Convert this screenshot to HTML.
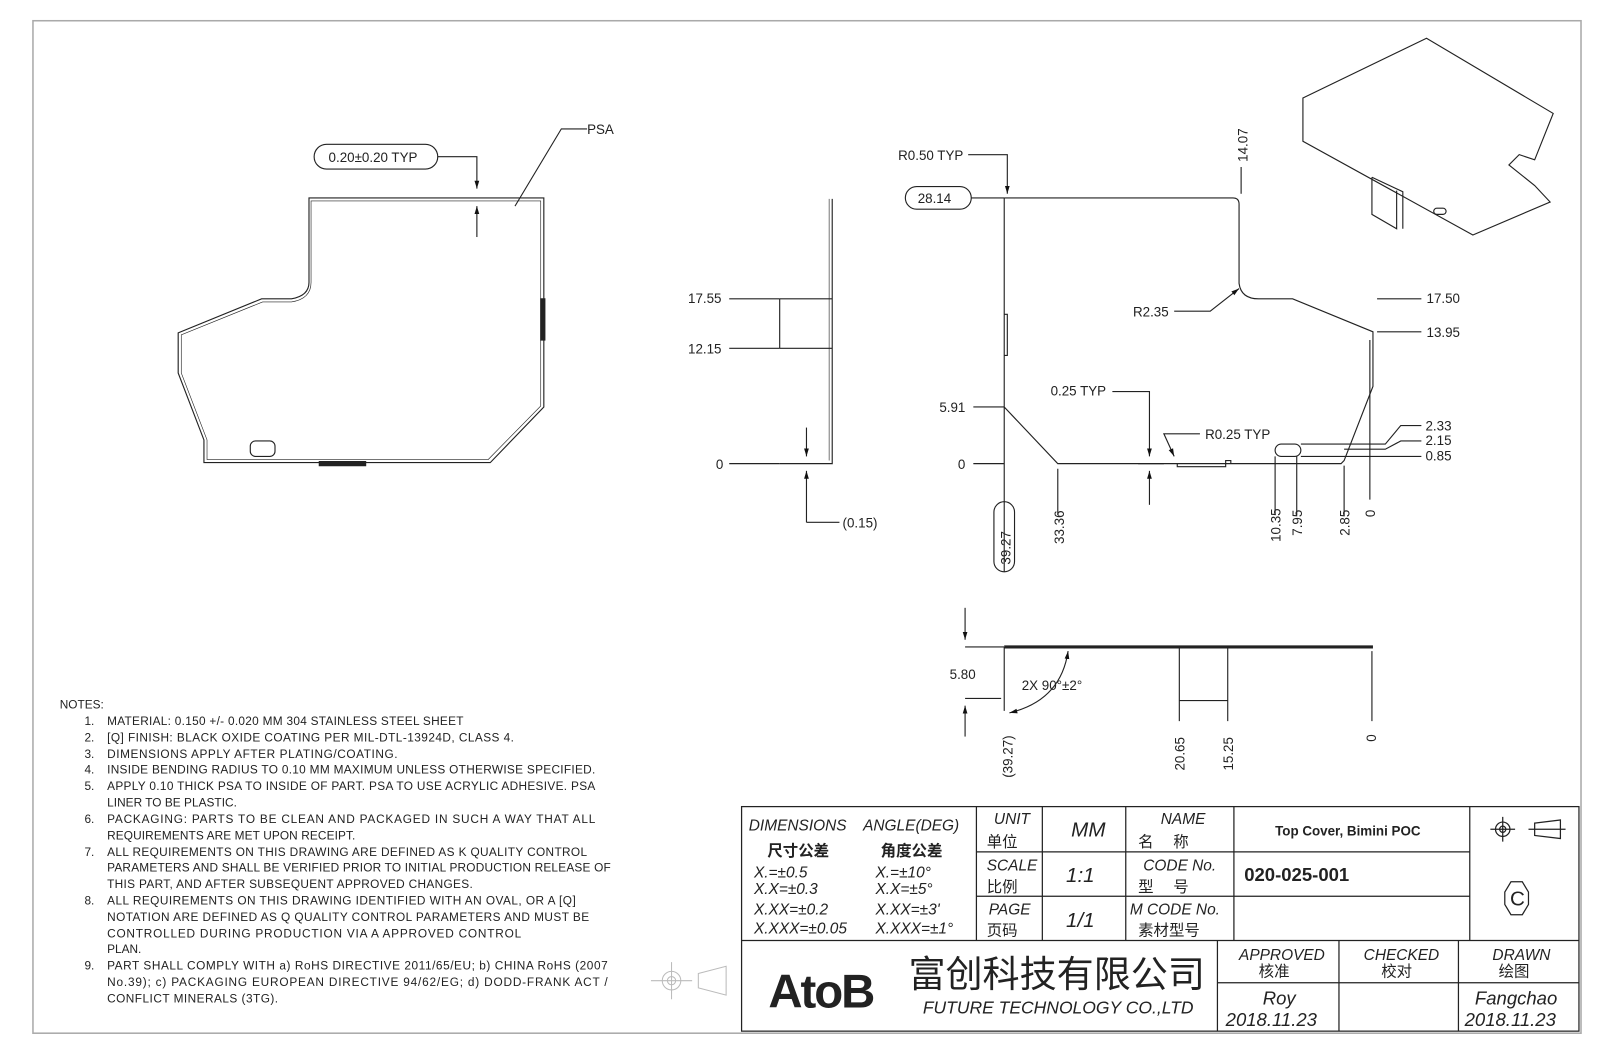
<!DOCTYPE html>
<html><head><meta charset="utf-8"><style>
html,body{margin:0;padding:0;background:#fff;}
svg{display:block;}
text{font-family:"Liberation Sans","Noto Sans CJK SC",sans-serif;fill:#222;}
.n{font-size:11.5px;}
.d{font-size:13px;}
.tb{font-size:15px;font-style:italic;font-family:"Liberation Sans Narrow","Liberation Sans","Noto Sans CJK SC",sans-serif;}
.cj{font-family:"Noto Sans CJK SC",sans-serif;font-size:15px;}
</style></head><body>
<svg width="1615" height="1056" viewBox="0 0 1568 1025" xmlns="http://www.w3.org/2000/svg">
<defs><marker id="a" viewBox="0 0 10 10" refX="10" refY="5" markerWidth="7" markerHeight="7" orient="auto-start-reverse"><path d="M0,2 L10,5 L0,8 z" fill="#111"/></marker></defs>
<rect x="32" y="20" width="1503" height="983" fill="none" stroke="#aaa" stroke-width="1.5"/>
<g fill="none" stroke="#222" stroke-width="1.1">
<path d="M300,274 L300,192 L528,192 L528,395 L476,449 L198,449 L198,427 L173,362 L173,323 L254,290 L283,290 Q300,287 300,274"/>
<path d="M302,274 L302,195 L525,195 L525,394 L474,446 L201,446 L201,427 L176,362 L176,325 L255,293 L283,293 Q302,290 302,274" stroke-width="0.6"/>
<rect x="243" y="428" width="24" height="15" rx="5"/>
<rect x="310" y="448" width="45" height="4" fill="#222"/>
<rect x="525" y="290" width="4" height="40" fill="#222"/>
<rect x="305" y="140" width="120" height="24" rx="12"/>
<path d="M425,152 L463,152 L463,183" marker-end="url(#a)"/>
<path d="M463,230 L463,200" marker-end="url(#a)"/>
<path d="M570,125 L545,125 L500,200"/>
<path d="M808,193 L808,450 L757,450"/>
<path d="M805,193 L805,447" stroke-width="0.6"/>
<path d="M757,290 L808,290 M757,338 L808,338 M757,290 L757,338"/>
<path d="M708,290 L757,290 M708,338 L757,338 M708,450 L757,450"/>
<path d="M783,415 L783,443" marker-end="url(#a)"/>
<path d="M783,507 L783,457" marker-end="url(#a)"/>
<path d="M783,507 L815,507"/>
<path d="M975,192 L975,555 M975,192 L1197,192 Q1203,192 1203,198 L1203,275 Q1205,290 1222,290 L1255,290 L1333,322 L1333,375 L1305,447 L1302,450 L1027,450 L975,395"/>
<path d="M975,305 L978,305 L978,345 L975,345"/>
<path d="M1143,450 L1143,453 L1190,453 L1190,447 L1195,447 L1195,450"/>
<rect x="1238" y="431" width="25" height="12" rx="6"/>
<path d="M1263,431 L1345,431 L1360,413 L1380,413 M1263,443 L1380,443 M1305,436 L1345,436 L1360,428 L1380,428"/>
<path d="M940,150 L978,150 L978,188" marker-end="url(#a)"/>
<rect x="879" y="181" width="64" height="22" rx="11"/>
<path d="M943,192 L975,192"/>
<path d="M1205,162 L1205,188"/>
<path d="M1140,302 L1175,302 L1203,280" marker-end="url(#a)"/>
<path d="M1337,290 L1380,290 M1337,322 L1380,322"/>
<path d="M945,395 L975,395 M945,450 L975,450 M1027,455 L1027,500"/>
<path d="M1080,380 L1116,380 L1116,443" marker-end="url(#a)"/>
<path d="M1116,490 L1116,457" marker-end="url(#a)"/>
<path d="M1105,450 L1130,450"/>
<path d="M1165,421 L1130,421 L1140,443" marker-end="url(#a)"/>
<rect x="965" y="487" width="20" height="68" rx="10"/>
<path d="M1238,443 L1238,500 M1259,443 L1259,500 M1305,452 L1305,500 M1330,330 L1330,485"/>
<path d="M975,628 L1333,628" stroke-width="3"/>
<path d="M975,628 L975,690 M1145,628 L1145,700 M1192,628 L1192,700 M1332,632 L1332,700 M1145,680 L1192,680"/>
<path d="M937,628 L975,628 M937,678 L972,678"/>
<path d="M937,590 L937,621" marker-end="url(#a)"/>
<path d="M937,715 L937,685" marker-end="url(#a)"/>
<path d="M980,692 Q1030,680 1037,632" marker-start="url(#a)" marker-end="url(#a)"/>
<path d="M1265,95 L1385,37 L1508,110 L1490,155 L1475,150 L1465,160 L1490,180 L1505,196 L1430,228 L1265,137 Z"/>
<path d="M1332,172 L1332,208 L1356,222 L1356,185 M1332,172 L1362,186 L1362,222"/>
<rect x="1392" y="202" width="12" height="6" rx="3"/>
</g>
<g class="d">
<text x="570" y="130">PSA</text>
<text x="319" y="157">0.20±0.20 TYP</text>
<text x="668" y="294">17.55</text>
<text x="668" y="343">12.15</text>
<text x="695" y="455">0</text>
<text x="818" y="512">(0.15)</text>
<text x="872" y="155">R0.50 TYP</text>
<text x="891" y="197">28.14</text>
<text x="1100" y="307">R2.35</text>
<text x="1385" y="294">17.50</text>
<text x="1385" y="327">13.95</text>
<text x="1020" y="384">0.25 TYP</text>
<text x="1170" y="426">R0.25 TYP</text>
<text x="912" y="400">5.91</text>
<text x="930" y="455">0</text>
<text x="1384" y="418">2.33</text>
<text x="1384" y="432">2.15</text>
<text x="1384" y="447">0.85</text>
<text transform="translate(1211,157) rotate(-90)">14.07</text>
<text transform="translate(981,548) rotate(-90)">39.27</text>
<text transform="translate(1033,528) rotate(-90)">33.36</text>
<text transform="translate(1243,526) rotate(-90)">10.35</text>
<text transform="translate(1264,520) rotate(-90)">7.95</text>
<text transform="translate(1310,520) rotate(-90)">2.85</text>
<text transform="translate(1335,502) rotate(-90)">0</text>
<text x="922" y="659">5.80</text>
<text x="992" y="670">2X 90°±2°</text>
<text transform="translate(983,755) rotate(-90)">(39.27)</text>
<text transform="translate(1150,748) rotate(-90)">20.65</text>
<text transform="translate(1197,748) rotate(-90)">15.25</text>
<text transform="translate(1336,720) rotate(-90)">0</text>
</g>
<g class="n">
<text x="58" y="688">NOTES:</text>
<text x="82" y="704">1.</text><text x="104" y="704" textLength="346">MATERIAL: 0.150 +/- 0.020 MM 304 STAINLESS STEEL SHEET</text>
<text x="82" y="720">2.</text><text x="104" y="720" textLength="395">[Q] FINISH: BLACK OXIDE COATING PER MIL-DTL-13924D, CLASS 4.</text>
<text x="82" y="736">3.</text><text x="104" y="736" textLength="282">DIMENSIONS APPLY AFTER PLATING/COATING.</text>
<text x="82" y="751">4.</text><text x="104" y="751" textLength="474">INSIDE BENDING RADIUS TO 0.10 MM MAXIMUM UNLESS OTHERWISE SPECIFIED.</text>
<text x="82" y="767">5.</text><text x="104" y="767" textLength="474">APPLY 0.10 THICK PSA TO INSIDE OF PART. PSA TO USE ACRYLIC ADHESIVE. PSA</text>
<text x="104" y="783" textLength="126">LINER TO BE PLASTIC.</text>
<text x="82" y="799">6.</text><text x="104" y="799" textLength="474">PACKAGING:  PARTS TO BE CLEAN AND PACKAGED IN SUCH A WAY THAT ALL</text>
<text x="104" y="815" textLength="241">REQUIREMENTS ARE MET UPON RECEIPT.</text>
<text x="82" y="831">7.</text><text x="104" y="831" textLength="466">ALL REQUIREMENTS ON THIS DRAWING ARE DEFINED AS K QUALITY CONTROL</text>
<text x="104" y="846" textLength="489">PARAMETERS AND SHALL BE VERIFIED PRIOR TO INITIAL PRODUCTION RELEASE OF</text>
<text x="104" y="862" textLength="355">THIS PART, AND AFTER SUBSEQUENT  APPROVED CHANGES.</text>
<text x="82" y="878">8.</text><text x="104" y="878" textLength="455">ALL REQUIREMENTS ON THIS DRAWING IDENTIFIED WITH AN OVAL, OR A [Q]</text>
<text x="104" y="894" textLength="468">NOTATION ARE DEFINED AS Q QUALITY CONTROL PARAMETERS AND MUST BE</text>
<text x="104" y="910" textLength="402">CONTROLLED DURING PRODUCTION VIA A  APPROVED CONTROL</text>
<text x="104" y="925">PLAN.</text>
<text x="82" y="941">9.</text><text x="104" y="941" textLength="486">PART SHALL COMPLY WITH a) RoHS DIRECTIVE 2011/65/EU; b) CHINA RoHS (2007</text>
<text x="104" y="957" textLength="486">No.39); c) PACKAGING EUROPEAN DIRECTIVE 94/62/EG; d) DODD-FRANK ACT /</text>
<text x="104" y="973" textLength="166">CONFLICT MINERALS (3TG).</text>
</g>
<g fill="none" stroke="#bbb">
<circle cx="652" cy="952" r="9"/><circle cx="652" cy="952" r="4"/><path d="M632,952 L672,952 M652,934 L652,970 M678,945 L705,938 L705,966 L678,959 Z"/>
</g>
<g fill="none" stroke="#222" stroke-width="1.2">
<rect x="720" y="783" width="813" height="218"/>
<path d="M720,913 L1533,913 M948,783 L948,913 M1012,783 L1012,913 M1093,783 L1093,913 M1198,783 L1198,913 M1427,783 L1427,913 M948,827 L1427,827 M948,870 L1427,870 M1182,913 L1182,1001 M1300,913 L1300,1001 M1416,913 L1416,1001 M1182,954 L1533,954"/>
<circle cx="1459" cy="805" r="7"/><circle cx="1459" cy="805" r="3"/><path d="M1447,805 L1471,805 M1459,793 L1459,817 M1490,799 L1515,796 L1515,814 L1490,811 Z M1484,805 L1520,805"/>
<path d="M1467,856 L1478,856 L1484,866 L1484,878 L1478,888 L1467,888 L1461,878 L1461,866 Z"/>
</g>
<g class="tb">
<text x="727" y="806">DIMENSIONS</text><text x="838" y="806">ANGLE(DEG)</text>
<text x="732" y="852">X.=±0.5</text><text x="850" y="852">X.=±10°</text>
<text x="732" y="868">X.X=±0.3</text><text x="850" y="868">X.X=±5°</text>
<text x="732" y="888">X.XX=±0.2</text><text x="850" y="888">X.XX=±3'</text>
<text x="732" y="906">X.XXX=±0.05</text><text x="850" y="906">X.XXX=±1°</text>
<text x="965" y="800">UNIT</text><text x="1040" y="812" font-size="20">MM</text><text x="1127" y="800">NAME</text>
<text x="958" y="845">SCALE</text><text x="1035" y="856" font-size="20">1:1</text><text x="1110" y="845">CODE No.</text>
<text x="960" y="888">PAGE</text><text x="1035" y="900" font-size="20">1/1</text><text x="1097" y="888">M CODE No.</text>
<text x="1203" y="932">APPROVED</text><text x="1324" y="932">CHECKED</text><text x="1449" y="932">DRAWN</text>
<text x="1226" y="975" font-size="18">Roy</text><text x="1190" y="996" font-size="18">2018.11.23</text>
<text x="1432" y="975" font-size="18">Fangchao</text><text x="1422" y="996" font-size="18">2018.11.23</text>
<text x="896" y="984" font-size="17">FUTURE  TECHNOLOGY  CO.,LTD</text>
</g>
<g class="cj">
<text x="745" y="831" font-weight="bold">尺寸公差</text><text x="855" y="831" font-weight="bold">角度公差</text>
<text x="958" y="822">单位</text><text x="1105" y="822">名　 称</text>
<text x="958" y="866">比例</text><text x="1105" y="866">型　 号</text>
<text x="958" y="908">页码</text><text x="1105" y="908">素材型号</text>
<text x="1222" y="948">核准</text><text x="1341" y="948">校对</text><text x="1455" y="948">绘图</text>
<text x="882" y="958" font-size="36">富创科技有限公司</text>
</g>
<text x="746" y="978" font-size="46" font-weight="bold" font-family="Liberation Sans,sans-serif" fill="#111" letter-spacing="-2">AtoB</text>
<text x="1238" y="811" font-size="13" font-weight="bold" font-family="Liberation Mono,monospace">Top Cover, Bimini POC</text>
<text x="1208" y="855" font-size="18" font-weight="bold" font-family="Liberation Mono,monospace">020-025-001</text>
<text x="1466" y="879" font-size="20">C</text>
</svg>
</body></html>
